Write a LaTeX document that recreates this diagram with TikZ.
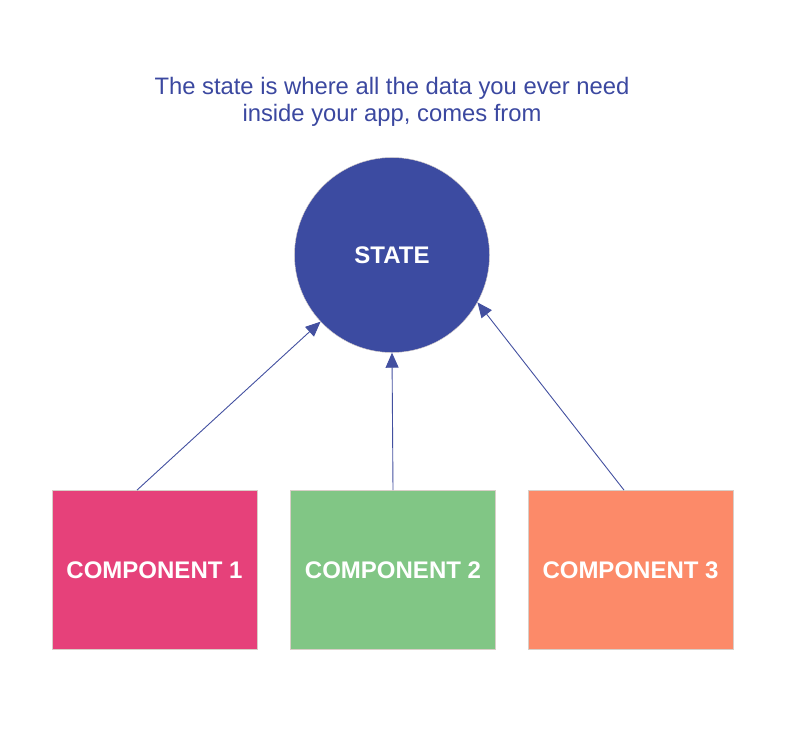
\documentclass[tikz,border=0pt]{standalone}
\usepackage{fontspec}
\setmainfont{Liberation Sans}
\usetikzlibrary{arrows.meta}
\definecolor{stateblue}{HTML}{3C4BA1}
\definecolor{titleblue}{HTML}{3B48A0}
\definecolor{comppink}{HTML}{E6417A}
\definecolor{compgreen}{HTML}{81C685}
\definecolor{comporange}{HTML}{FC8A69}
\definecolor{edgegrey}{HTML}{D8CFC8}
\definecolor{arrowblue}{HTML}{4350A0}
\begin{document}
\begin{tikzpicture}[x=1pt,y=-1pt,
  compbox/.style={draw=edgegrey,line width=0.8pt,minimum width=205pt,minimum height=159pt,inner sep=0pt,
    text=white,font=\fontsize{24}{27}\selectfont\bfseries},
  statecircle/.style={circle,fill=stateblue,draw=edgegrey,line width=0.4pt,minimum size=195pt,inner sep=0pt,
    text=white,font=\fontsize{24}{27}\selectfont\bfseries},
  link/.style={draw=arrowblue,line width=0.9pt,-{Triangle[length=15pt,width=13pt]}}]
\useasboundingbox (0,0) rectangle (786,748);
\node[align=center,text=titleblue,font=\fontsize{23.8}{27.5}\selectfont] (title) at (392,102)
  {The state is where all the data you ever need\\inside your app, comes from};
\node[statecircle] (state) at (392,255) {STATE};
\node[compbox,fill=comppink] (c1) at (154.5,570) {COMPONENT 1};
\node[compbox,fill=compgreen] (c2) at (393,570) {COMPONENT 2};
\node[compbox,fill=comporange] (c3) at (630.5,570) {COMPONENT 3};
\coordinate (s1) at ([xshift=-17.5pt]c1.north);
\coordinate (s3) at ([xshift=-6.5pt]c3.north);
\draw[link] (s1) -- (state.223);
\draw[link] (c2.north) -- (state.south);
\draw[link] (s3) -- (state.-29);
\end{tikzpicture}
\end{document}
